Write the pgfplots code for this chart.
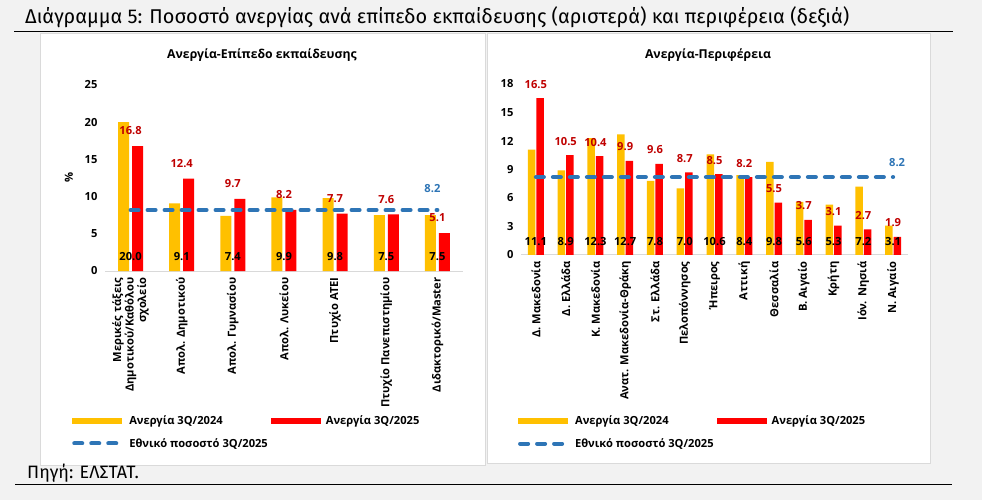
\documentclass[border=0pt]{standalone}
\usepackage{pgfplots}
\pgfplotsset{compat=1.18}
\usepackage{fontspec}
\setmainfont{Fira Sans}
\newfontfamily\chartfont{Open Sans}

\definecolor{bgc}{HTML}{F2F2F2}
\definecolor{ylw}{HTML}{FFC000}
\definecolor{rd}{HTML}{FF0000}
\definecolor{drd}{HTML}{C00000}
\definecolor{blu}{HTML}{2E75B6}
\definecolor{pnl}{HTML}{DADADA}

\pgfplotsset{
  /pgf/number format/assume math mode=true,
  panel/.style={
    scale only axis, clip=false,
    font=\chartfont\fontsize{11.2}{12.5}\selectfont\bfseries,
    axis x line*=bottom, axis y line*=left,
    y axis line style={draw=none},
    x axis line style={draw=black!15, line width=1bp},
    major tick length=0pt,
    xtick=data, ymin=0,
    xticklabel style={rotate=90, anchor=east, align=right},
    xticklabel shift=3bp,
    yticklabel shift=4bp,
    legend columns=2,
    legend cell align=left,
    legend style={draw=none, fill=none, anchor=north west, inner sep=0pt,
      font=\chartfont\fontsize{11.2}{12.5}\selectfont\bfseries,
      /tikz/every odd column/.append style={column sep=3bp},
      /tikz/every even column/.append style={column sep=1bp},
      row sep=8bp},
  },
  lbl/.style={nodes near coords={\pgfmathprintnumber[fixed,fixed zerofill,precision=1]{\pgfplotspointmeta}}},
  yleg/.style={legend image code/.code={\fill[ylw] (0bp,-3bp) rectangle (50bp,3bp);}},
  rleg/.style={legend image code/.code={\fill[rd] (0bp,-3bp) rectangle (50bp,3bp);}},
  bleg/.style={legend image code/.code={\draw[blu, line width=4bp, line cap=round, dash pattern=on 8bp off 9bp] (2bp,0bp) -- (50bp,0bp);}},
  natline/.style={blu, line width=4bp, line cap=round, dash pattern=on 8bp off 9bp,
    point meta=explicit symbolic, nodes near coords,
    every node near coord/.append style={text=blu, anchor=center}},
}

\begin{document}
\begin{tikzpicture}
% background, rules and white panels
\fill[bgc] (0,0) rectangle (982bp,500bp);
\draw[black, line width=1bp] (14bp,468bp) -- (953bp,468bp);
\draw[black, line width=1bp] (15bp,15bp) -- (952bp,15bp);
\filldraw[fill=white, draw=pnl] (40.5bp,35bp) rectangle (485bp,467bp);
\filldraw[fill=white, draw=pnl] (487bp,37bp) rectangle (930.5bp,467bp);
\node[anchor=west, inner sep=0pt] at (25bp,483bp)
  {\fontsize{20}{23}\selectfont Διάγραμμα 5: Ποσοστό ανεργίας ανά επίπεδο εκπαίδευσης (αριστερά) και περιφέρεια (δεξιά)};
\node[anchor=west, inner sep=0pt] at (27bp,27bp) {\fontsize{18}{20}\selectfont Πηγή: ΕΛΣΤΑΤ.};
\node[font=\chartfont\fontsize{12.3}{14}\selectfont\bfseries] at (262bp,445bp) {Ανεργία-Επίπεδο εκπαίδευσης};
\node[font=\chartfont\fontsize{12.3}{14}\selectfont\bfseries] at (708bp,445bp) {Ανεργία-Περιφέρεια};

% left: by education level
\begin{axis}[panel, at={(105bp,229bp)}, anchor=south west,
  width=358bp, height=186bp, xmin=-0.5, xmax=6.5, ymax=25, ytick={0,5,...,25},
  xticklabels={{Μερικές τάξεις\\Δημοτικού/Καθόλου\\σχολείο}, Απολ. Δημοτικού, Απολ. Γυμνασίου,
    Απολ. Λυκείου, Πτυχίο ΑΤΕΙ, Πτυχίο Πανεπιστημίου, Διδακτορικό/Master},
  legend style={at={(rel axis cs:-0.092,-0.767)}}]
\addplot[ybar, bar width=11bp, bar shift=-7bp, fill=ylw, draw=none, lbl, yleg,
  visualization depends on={rawy \as \ry},
  every node near coord/.append style={text=black, anchor=center, yshift={(2-\ry)*7.44bp}}]
  coordinates {(0,20.0) (1,9.1) (2,7.4) (3,9.9) (4,9.8) (5,7.5) (6,7.5)};
\addlegendentry{Ανεργία 3Q/2024}
\addplot[ybar, bar width=11bp, bar shift=7bp, fill=rd, draw=none, lbl, rleg,
  every node near coord/.append style={text=drd, anchor=center, yshift=15bp}]
  coordinates {(0,16.8) (1,12.4) (2,9.7) (3,8.2) (4,7.7) (5,7.6) (6,5.1)};
\addlegendentry{Ανεργία 3Q/2025}
\addplot[natline, bleg, every node near coord/.append style={yshift=21bp, xshift=-5bp}]
  coordinates {(0,8.2) [] (6,8.2) [8.2]};
\addlegendentry{Εθνικό ποσοστό 3Q/2025}
\node[xshift=-36bp, rotate=90] at (rel axis cs:0,0.505) {\%};
\end{axis}

% right: by region
\begin{axis}[panel, at={(521bp,245bp)}, anchor=south west,
  width=387bp, height=171bp, xmin=-0.5, xmax=12.5, ymax=18, ytick={0,3,...,18},
  xticklabels={Δ. Μακεδονία, Δ. Ελλάδα, Κ. Μακεδονία, Ανατ. Μακεδονία-Θράκη, Στ. Ελλάδα,
    Πελοπόννησος, Ήπειρος, Αττική, Θεσσαλία, Β. Αιγαίο, Κρήτη, Ιόν. Νησιά, Ν. Αιγαίο},
  legend style={at={(rel axis cs:-0.008,-0.929)}}]
\addplot[ybar, bar width=7.5bp, bar shift=-4.25bp, fill=ylw, draw=none, lbl, yleg,
  visualization depends on={rawy \as \ry},
  every node near coord/.append style={text=black, anchor=center, yshift={(1.4-\ry)*9.5bp}}]
  coordinates {(0,11.1) (1,8.9) (2,12.3) (3,12.7) (4,7.8) (5,7.0) (6,10.6)
               (7,8.4) (8,9.8) (9,5.6) (10,5.3) (11,7.2) (12,3.1)};
\addlegendentry{Ανεργία 3Q/2024}
\addplot[ybar, bar width=7.5bp, bar shift=4.25bp, fill=rd, draw=none, lbl, rleg,
  every node near coord/.append style={text=drd, anchor=center, yshift=14bp}]
  coordinates {(0,16.5) (1,10.5) (2,10.4) (3,9.9) (4,9.6) (5,8.7) (6,8.5)
               (7,8.2) (8,5.5) (9,3.7) (10,3.1) (11,2.7) (12,1.9)};
\addlegendentry{Ανεργία 3Q/2025}
\addplot[natline, bleg, every node near coord/.append style={yshift=15bp, xshift=4bp}]
  coordinates {(0,8.2) [] (12,8.2) [8.2]};
\addlegendentry{Εθνικό ποσοστό 3Q/2025}
\end{axis}
\pgfresetboundingbox
\useasboundingbox (0,0) rectangle (982bp,500bp);
\end{tikzpicture}
\end{document}
